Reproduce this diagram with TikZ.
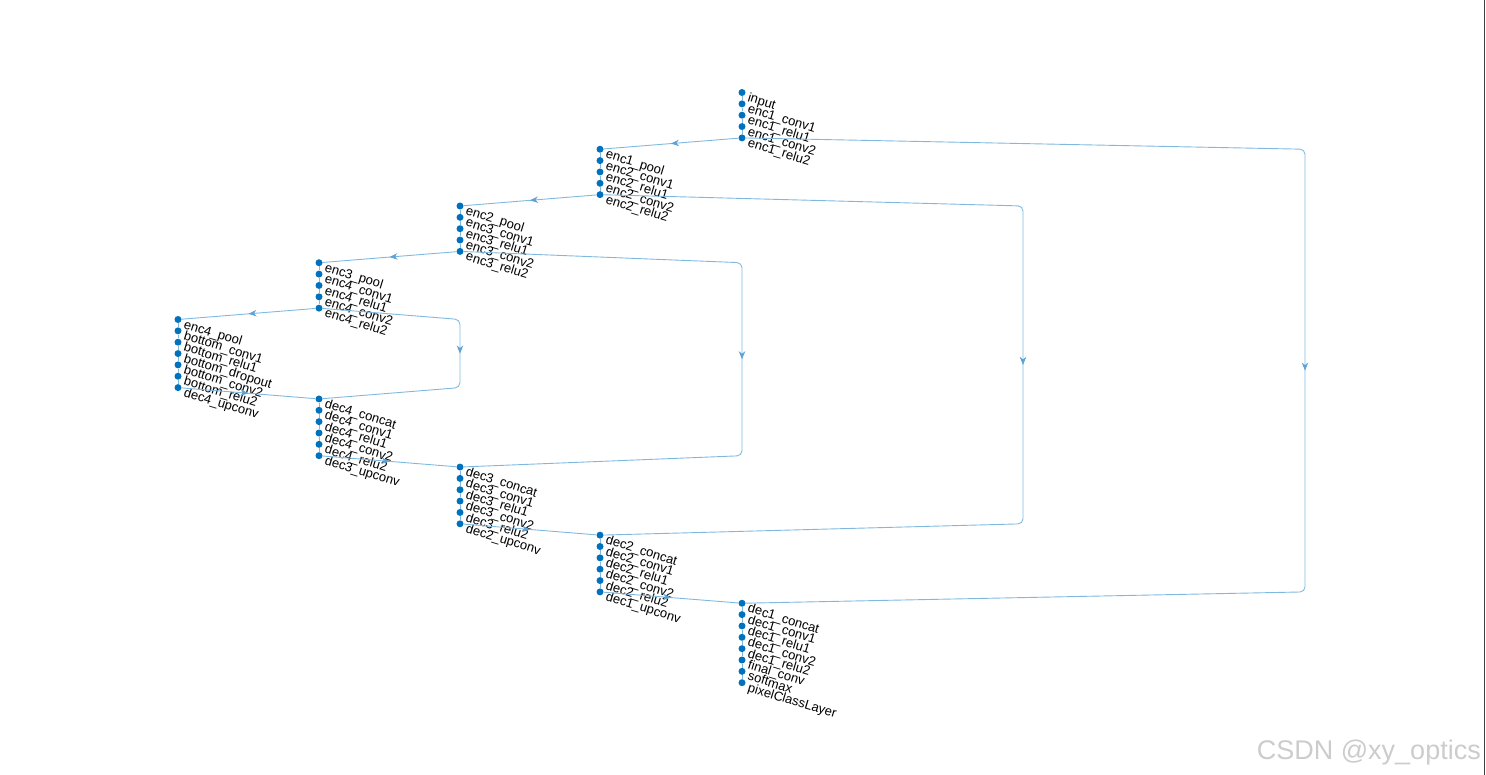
\documentclass[tikz,border=0pt]{standalone}
\usepackage{fontspec}
\setmainfont{Liberation Sans}
\usetikzlibrary{arrows.meta,decorations.markings,calc}
\definecolor{mblue}{HTML}{0072BD}
\definecolor{eline}{HTML}{80B9E0}
\definecolor{earrow}{HTML}{5EA3D6}
\begin{document}
\begin{tikzpicture}[x=1pt,y=-1pt,
  lay/.style={circle,fill=mblue,inner sep=0pt,minimum size=7pt},
  lbl/.style={anchor=base west,rotate=-17,inner sep=0pt,font=\fontsize{13}{15}\selectfont},
  edge/.style={draw=eline,line width=0.9pt},
  arr/.style={postaction={decorate},decoration={markings,mark=at position 0.5 with {\arrow[earrow]{Stealth[length=8pt,width=6.5pt,inset=2.5pt]}}}}
]
\useasboundingbox (0,0) rectangle (1486,775);
\foreach \i/\xx/\lab in {
 0/742/input, 1/742/enc1\_conv1, 2/742/enc1\_relu1, 3/742/enc1\_conv2, 4/742/enc1\_relu2,
 5/600/enc1\_pool, 6/600/enc2\_conv1, 7/600/enc2\_relu1, 8/600/enc2\_conv2, 9/600/enc2\_relu2,
 10/460/enc2\_pool, 11/460/enc3\_conv1, 12/460/enc3\_relu1, 13/460/enc3\_conv2, 14/460/enc3\_relu2,
 15/319/enc3\_pool, 16/319/enc4\_conv1, 17/319/enc4\_relu1, 18/319/enc4\_conv2, 19/319/enc4\_relu2,
 20/178/enc4\_pool, 21/178/bottom\_conv1, 22/178/bottom\_relu1, 23/178/bottom\_dropout, 24/178/bottom\_conv2, 25/178/bottom\_relu2, 26/178/dec4\_upconv,
 27/319/dec4\_concat, 28/319/dec4\_conv1, 29/319/dec4\_relu1, 30/319/dec4\_conv2, 31/319/dec4\_relu2, 32/319/dec3\_upconv,
 33/460/dec3\_concat, 34/460/dec3\_conv1, 35/460/dec3\_relu1, 36/460/dec3\_conv2, 37/460/dec3\_relu2, 38/460/dec2\_upconv,
 39/600/dec2\_concat, 40/600/dec2\_conv1, 41/600/dec2\_relu1, 42/600/dec2\_conv2, 43/600/dec2\_relu2, 44/600/dec1\_upconv,
 45/742/dec1\_concat, 46/742/dec1\_conv1, 47/742/dec1\_relu1, 48/742/dec1\_conv2, 49/742/dec1\_relu2, 50/742/final\_conv, 51/742/softmax, 52/742/pixelClassLayer}
{
  \node[lay] (n\i) at (\xx,{92.5+11.35*\i}) {};
  \node[lbl] (t\i) at ($(n\i)+(5,8.5)$) {\lab};
}
% sequential edges inside columns
\foreach \i [evaluate=\i as \j using int(\i+1)] in {0,1,2,3,5,6,7,8,10,11,12,13,15,16,17,18,20,21,22,23,24,25,27,28,29,30,31,33,34,35,36,37,39,40,41,42,43,45,46,47,48,49,50,51}
  \draw[edge] (n\i) -- (n\j);
% edges between columns
\foreach \i/\j in {4/5,9/10,14/15,19/20,26/27,32/33,38/39,44/45}
  \draw[edge,arr] (n\i) -- (n\j);
% skip connections
\coordinate (s1) at (1305,0);
\coordinate (s2) at (1023,0);
\coordinate (s3) at (742,0);
\coordinate (s4) at (460,0);
\draw[edge,arr,rounded corners=5pt] (n4) -- (s1 |- n5) -- (s1 |- n44) -- (n45);
\draw[edge,arr,rounded corners=5pt] (n9) -- (s2 |- n10) -- (s2 |- n38) -- (n39);
\draw[edge,arr,rounded corners=5pt] (n14) -- (s3 |- n15) -- (s3 |- n32) -- (n33);
\draw[edge,arr,rounded corners=5pt] (n19) -- (s4 |- n20) -- (s4 |- n26) -- (n27);
% frame edge and watermark
\draw[line width=1.5pt,black!75] (1484.5,0) -- (1484.5,775);
\node[anchor=base east,inner sep=0pt,text=black!20,font=\fontsize{27}{30}\selectfont] (wm) at (1481,759) {CSDN @xy\_optics};
\end{tikzpicture}
\end{document}
